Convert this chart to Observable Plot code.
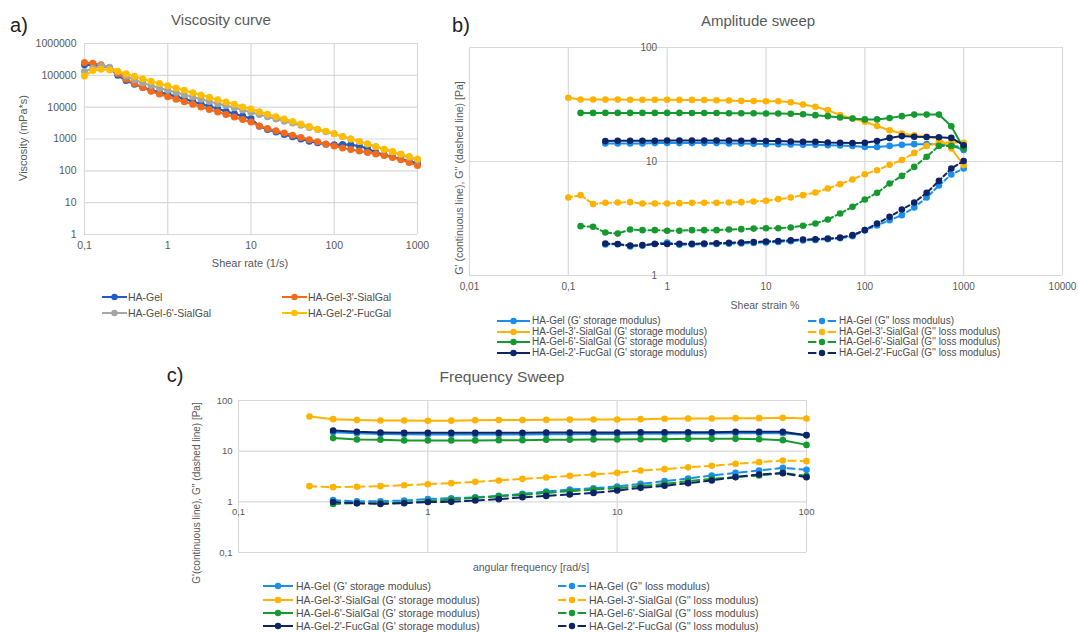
<!DOCTYPE html>
<html>
<head>
<meta charset="utf-8">
<script src="https://cdn.jsdelivr.net/npm/d3@7"></script>
<script src="https://cdn.jsdelivr.net/npm/@observablehq/plot@0.6"></script>
<style>
  html, body { margin: 0; padding: 0; background: #fff; }
  #root { position: relative; width: 1078px; height: 632px; overflow: hidden; background: #fff; }
</style>
</head>
<body>
<div id="root"></div>
<script>
// ---------------- DATA ----------------
// (a) Viscosity curve
const shearRate = [0.1, 0.126, 0.158, 0.2, 0.251, 0.316, 0.398, 0.501, 0.631, 0.794,
  1, 1.26, 1.58, 2, 2.51, 3.16, 3.98, 5.01, 6.31, 7.94,
  10, 12.6, 15.8, 20, 25.1, 31.6, 39.8, 50.1, 63.1, 79.4,
  100, 126, 158, 200, 251, 316, 398, 501, 631, 794, 1000];
const viscHAGel = [214000, 214000, 200000, 174000, 100000, 69000, 52500, 41700, 34700, 29500, 25700,
  21400, 18200, 15100, 12600, 10700, 8900, 7400, 6170, 5250, 4370,
  2510, 2000, 1660, 1380, 1170, 1000, 850, 760, 690, 660,
  676, 660, 600, 500, 380, 316, 275, 234, 200, 174];
const viscSial3 = [251000, 240000, 214000, 166000, 112000, 76000, 55000, 41700, 31600, 25700, 21400,
  17800, 14800, 12300, 10200, 8500, 7080, 5890, 4900, 4070, 3390,
  2570, 2140, 1820, 1550, 1320, 1120, 955, 813, 692, 603,
  525, 468, 417, 380, 339, 302, 263, 224, 182, 148];
const viscSial6 = [132000, 166000, 200000, 178000, 132000, 95500, 72400, 57500, 47900, 39800, 33900,
  28800, 24500, 20900, 17800, 15100, 12900, 11200, 9550, 8130, 6920,
  5890, 5010, 4270, 3630, 3160, 2690, 2290, 2000, 1700, 1450,
  1200, 1000, 832, 692, 575, 468, 389, 324, 269, 219];
const viscFuc2 = [95500, 141000, 155000, 148000, 135000, 112000, 93300, 77600, 64600, 55000, 46800,
  39800, 33900, 28200, 24000, 20400, 17000, 14500, 12300, 10200, 8710,
  7240, 6030, 5010, 4270, 3550, 2950, 2450, 2040, 1740, 1450,
  1200, 1000, 832, 692, 575, 479, 407, 339, 282, 234];
const viscXTicks = [0.1, 1, 10, 100, 1000];
const viscYTicks = [1, 10, 100, 1000, 10000, 100000, 1000000];
const viscNames = ["HA-Gel", "HA-Gel-3'-SialGal", "HA-Gel-6'-SialGal", "HA-Gel-2'-FucGal"];

// (b) Amplitude sweep (all series end at 1000 %)
const strain = [0.1, 0.133, 0.178, 0.237, 0.316, 0.422, 0.562, 0.75,
  1, 1.33, 1.78, 2.37, 3.16, 4.22, 5.62, 7.5,
  10, 13.3, 17.8, 23.7, 31.6, 42.2, 56.2, 75,
  100, 133, 178, 237, 316, 422, 562, 750, 1000];
const ampGpHAGel = [14.4, 14.4, 14.4, 14.4, 14.5, 14.5, 14.5, 14.5, 14.5, 14.5, 14.4, 14.4, 14.3, 14.2,
  14.2, 14.1, 14.0, 14.0, 13.9, 13.8, 13.7, 13.4, 13.4, 13.7, 14.0, 14.2, 14.2, 14.2, 13.9, 12.6];
const ampGpSial3 = [36.2, 35.0, 35.0, 34.9, 34.9, 34.8, 34.8, 34.8, 34.8, 34.7, 34.7, 34.6, 34.5, 34.3, 34.0, 33.9, 33.8,
  33.8, 33.1, 31.6, 30.2, 28.2, 25.5, 23.8, 22.3, 20.5, 18.8, 17.6, 17.0, 16.5, 15.9, 13.0, 9.3];
const ampGpSial6 = [26.7, 26.7, 26.7, 26.7, 26.7, 26.7, 26.7, 26.7, 26.7, 26.6, 26.6, 26.6, 26.5, 26.5, 26.5, 26.4,
  26.4, 26.2, 26.0, 25.5, 25.0, 24.3, 23.8, 23.4, 23.4, 24.1, 25.0, 25.8, 25.8, 25.8, 20.4, 13.0];
const ampGpFuc2 = [15.1, 15.2, 15.2, 15.2, 15.2, 15.3, 15.3, 15.3, 15.3, 15.3, 15.3, 15.2, 15.2, 15.1,
  15.1, 15.0, 14.9, 14.9, 14.7, 14.6, 14.5, 14.6, 15.1, 16.1, 16.7, 16.5, 16.4, 16.3, 16.1, 13.9];
const ampGppHAGel = [1.87, 1.88, 1.80, 1.82, 1.90, 1.95, 1.86, 1.87, 1.88, 1.89, 1.90, 1.91, 1.93, 1.95,
  1.97, 2.00, 2.03, 2.05, 2.08, 2.12, 2.21, 2.50, 2.75, 3.06, 3.38, 3.95, 4.83, 6.15, 7.69, 8.68];
const ampGppSial3 = [4.83, 5.07, 4.23, 4.34, 4.37, 4.40, 4.28, 4.28, 4.28, 4.31, 4.34, 4.34, 4.34, 4.37, 4.40, 4.46, 4.52,
  4.68, 4.83, 5.07, 5.35, 5.80, 6.33, 6.95, 7.74, 8.39, 9.35, 10.3, 11.9, 13.7, 14.6, 14.7, 14.6];
const ampGppSial6 = [2.71, 2.68, 2.38, 2.33, 2.53, 2.50, 2.50, 2.47, 2.47, 2.50, 2.50, 2.50, 2.53, 2.55, 2.58, 2.60,
  2.60, 2.64, 2.73, 2.86, 3.10, 3.50, 4.00, 4.64, 5.31, 6.41, 7.48, 8.97, 11.0, 13.7, 13.7, 13.4];
const ampGppFuc2 = [1.91, 1.89, 1.83, 1.85, 1.89, 1.89, 1.90, 1.90, 1.91, 1.92, 1.94, 1.95, 1.97, 1.99,
  2.01, 2.04, 2.07, 2.08, 2.11, 2.15, 2.26, 2.50, 2.86, 3.27, 3.79, 4.37, 5.31, 6.76, 8.68, 10.1];
const ampXTicks = [0.01, 0.1, 1, 10, 100, 1000, 10000];
const ampYTicks = [1, 10, 100];

// (c) Frequency sweep (all series end at 100 rad/s)
const freq = [0.237, 0.316, 0.422, 0.562, 0.75, 1, 1.33, 1.78, 2.37, 3.16, 4.22,
  5.62, 7.5, 10, 13.3, 17.8, 23.7, 31.6, 42.2, 56.2, 75, 100];
const frqGpHAGel = [23.5, 22.5, 21.8, 21.5, 21.3, 21.3, 21.3, 21.3, 21.3, 21.5, 21.5, 21.8, 21.8,
  22.0, 22.0, 22.2, 22.2, 22.5, 22.5, 22.5, 20.5];
const frqGpSial3 = [48.3, 42.8, 41.0, 40.3, 40.3, 39.7, 40.0, 40.6, 41.0, 41.0, 41.5, 42.0, 42.2, 42.2,
  42.8, 43.5, 44.2, 44.2, 44.8, 44.8, 45.5, 44.2];
const frqGpSial6 = [18.1, 17.0, 16.8, 16.3, 16.3, 16.3, 16.3, 16.5, 16.5, 16.8, 16.8, 17.0, 17.0,
  17.2, 17.2, 17.5, 17.5, 17.5, 17.2, 16.5, 13.3];
const frqGpFuc2 = [25.6, 24.1, 23.4, 23.0, 23.0, 23.0, 23.0, 23.0, 23.0, 23.4, 23.4, 23.4, 23.4,
  23.7, 23.7, 23.7, 23.7, 24.1, 24.1, 24.1, 20.7];
const frqGppHAGel = [1.08, 1.02, 1.03, 1.06, 1.13, 1.18, 1.23, 1.31, 1.44, 1.60, 1.75, 1.86, 2.01,
  2.26, 2.56, 2.89, 3.31, 3.73, 4.15, 4.69, 4.28];
const frqGppSial3 = [2.04, 1.95, 1.98, 2.04, 2.13, 2.23, 2.34, 2.48, 2.64, 2.84, 3.02, 3.26, 3.46, 3.73,
  4.15, 4.42, 4.83, 5.14, 5.62, 6.07, 6.55, 6.35];
const frqGppSial6 = [0.91, 0.94, 0.94, 0.96, 1.03, 1.11, 1.20, 1.29, 1.37, 1.50, 1.62, 1.75, 1.86,
  2.04, 2.26, 2.56, 2.84, 3.08, 3.31, 3.73, 3.25];
const frqGppFuc2 = [0.99, 0.94, 0.91, 0.94, 0.99, 1.00, 1.06, 1.13, 1.23, 1.31, 1.40, 1.50, 1.67,
  1.89, 2.07, 2.34, 2.64, 3.08, 3.46, 3.68, 3.05];
const frqXTicks = [0.1, 1, 10, 100];
const frqYTicks = [0.1, 1, 10, 100];

const modNames = ["HA-Gel", "HA-Gel-3'-SialGal", "HA-Gel-6'-SialGal", "HA-Gel-2'-FucGal"];

// ---------------- STYLE ----------------
const FONT = '"Liberation Sans", Arial, Helvetica, sans-serif';
const GRID = "#d9d9d9";
const TXT = "#595959";
const colA = ["#1f5cc6", "#f26a1c", "#a5a5a5", "#ffbf00"];
const colM = ["#1a8ee8", "#ffb300", "#16992f", "#0d2466"];

const root = document.getElementById("root");
const fmt = d => String(d).replace(".", ",");

// rows aligned to the end of the x array
function rows(xs, ys) {
  const off = xs.length - ys.length;
  return ys.map((y, i) => ({x: xs[i + off], y}));
}

function place(svg, left, top) {
  svg.style.position = "absolute";
  svg.style.left = left + "px";
  svg.style.top = top + "px";
  root.appendChild(svg);
}

function txt(s, x, y, {size = 11, color = TXT, anchor = "middle", rotate = 0} = {}) {
  const d = document.createElement("div");
  d.textContent = s;
  d.style.cssText = `position:absolute;left:${x}px;top:${y}px;font-size:${size}px;color:${color};white-space:nowrap;line-height:1;font-family:${FONT};`;
  const tx = anchor === "middle" ? "-50%" : anchor === "end" ? "-100%" : "0";
  d.style.transform = `translate(${tx},-50%)` + (rotate ? ` rotate(${rotate}deg)` : "");
  root.appendChild(d);
}

function legendItem(x, y, w, color, dashed, label, size, gap) {
  const svg = d3.create("svg").attr("width", w).attr("height", 10)
    .style("position", "absolute").style("left", x + "px").style("top", (y - 5) + "px");
  if (dashed) {
    svg.append("line").attr("x1", 0).attr("x2", w * 0.3).attr("y1", 5).attr("y2", 5)
      .attr("stroke", color).attr("stroke-width", 2);
    svg.append("line").attr("x1", w * 0.7).attr("x2", w).attr("y1", 5).attr("y2", 5)
      .attr("stroke", color).attr("stroke-width", 2);
  } else {
    svg.append("line").attr("x1", 0).attr("x2", w).attr("y1", 5).attr("y2", 5)
      .attr("stroke", color).attr("stroke-width", 2);
  }
  svg.append("circle").attr("cx", w / 2).attr("cy", 5).attr("r", 3.2).attr("fill", color);
  root.appendChild(svg.node());
  txt(label, x + w + gap, y, {size, anchor: "start", color: "#4d4d4d"});
}

function seriesMarks(data, color, {dashed = false, width = 2, r = 3, dash = "4,3"} = {}) {
  return [
    Plot.line(data, {x: "x", y: "y", stroke: color, strokeWidth: width, strokeDasharray: dashed ? dash : null}),
    Plot.dot(data, {x: "x", y: "y", r, fill: color, stroke: "none"})
  ];
}

// ---------------- (a) ----------------
const viscSeries = [viscHAGel, viscSial3, viscSial6, viscFuc2];
const plotA = Plot.plot({
  width: 440, height: 280,
  marginLeft: 84, marginRight: 23, marginTop: 43, marginBottom: 46,
  style: {fontFamily: FONT, fontSize: "10.5px", color: TXT, background: "transparent", overflow: "visible"},
  x: {type: "log", domain: [0.1, 1000]},
  y: {type: "log", domain: [1, 1e6]},
  marks: [
    Plot.gridX(viscXTicks, {stroke: GRID, strokeOpacity: 1, strokeWidth: 1.2}),
    Plot.gridY(viscYTicks, {stroke: GRID, strokeOpacity: 1, strokeWidth: 1.2}),
    Plot.axisX(viscXTicks, {tickSize: 0, tickPadding: 7, tickFormat: fmt, label: null}),
    Plot.axisY(viscYTicks, {tickSize: 0, tickPadding: 8, tickFormat: d => String(d), label: null}),
    ...viscSeries.flatMap((s, i) => seriesMarks(rows(shearRate, s), colA[i], {width: 2.2, r: 3.5}))
  ]
});
place(plotA, 0, 0);
txt("a)", 19, 25, {size: 20, color: "#222"});
txt("Viscosity curve", 221, 19, {size: 15});
txt("Viscosity (mPa*s)", 23, 138, {size: 11, rotate: -90});
txt("Shear rate (1/s)", 250, 263, {size: 11});
legendItem(102, 297, 25, colA[0], false, viscNames[0], 10.5, 1);
legendItem(282, 297, 25, colA[1], false, viscNames[1], 10.5, 1);
legendItem(102, 313, 25, colA[2], false, viscNames[2], 10.5, 1);
legendItem(282, 313, 25, colA[3], false, viscNames[3], 10.5, 1);

// ---------------- (b) ----------------
const ampGp = [ampGpHAGel, ampGpSial3, ampGpSial6, ampGpFuc2];
const ampGpp = [ampGppHAGel, ampGppSial3, ampGppSial6, ampGppFuc2];
const plotB = Plot.plot({
  width: 638, height: 300,
  marginLeft: 29, marginRight: 16, marginTop: 47, marginBottom: 25,
  style: {fontFamily: FONT, fontSize: "10px", color: TXT, background: "transparent", overflow: "visible"},
  x: {type: "log", domain: [0.01, 10000]},
  y: {type: "log", domain: [1, 100], axis: null},
  marks: [
    Plot.gridX(ampXTicks, {stroke: GRID, strokeOpacity: 1, strokeWidth: 1.2}),
    Plot.gridY(ampYTicks, {stroke: GRID, strokeOpacity: 1, strokeWidth: 1.2}),
    Plot.axisX(ampXTicks, {tickSize: 0, tickPadding: 7, tickFormat: fmt, label: null}),
    Plot.text(ampYTicks, {x: () => 1, y: d => d, text: d => String(d), textAnchor: "end", dx: -10, fill: TXT}),
    ...[0, 1, 2, 3].flatMap(i => [
      ...seriesMarks(rows(strain, ampGp[i]), colM[i], {width: 2, r: 3.3}),
      ...seriesMarks(rows(strain, ampGpp[i]), colM[i], {width: 2, r: 3.3, dashed: true, dash: "4,3"})
    ])
  ]
});
place(plotB, 440, 0);
txt("b)", 461, 25, {size: 20, color: "#222"});
txt("Amplitude sweep", 758, 20, {size: 15});
txt("G' (continuous line), G'' (dashed line) [Pa]", 459, 178, {size: 10.5, rotate: -90});
txt("Shear strain %", 765, 305, {size: 10.5});
const lbY = [321, 331.5, 342, 352.5];
for (let i = 0; i < 4; i++) {
  legendItem(497, lbY[i], 33, colM[i], false, modNames[i] + " (G' storage modulus)", 10, 2);
  legendItem(808, lbY[i], 28, colM[i], true, modNames[i] + " (G'' loss modulus)", 10, 3);
}

// ---------------- (c) ----------------
const frqGp = [frqGpHAGel, frqGpSial3, frqGpSial6, frqGpFuc2];
const frqGpp = [frqGppHAGel, frqGppSial3, frqGppSial6, frqGppFuc2];
const plotC = Plot.plot({
  width: 680, height: 190,
  marginLeft: 78, marginRight: 34, marginTop: 20, marginBottom: 18,
  style: {fontFamily: FONT, fontSize: "9.5px", color: TXT, background: "transparent", overflow: "visible"},
  x: {type: "log", domain: [0.1, 100], axis: null},
  y: {type: "log", domain: [0.1, 100]},
  marks: [
    Plot.gridX(frqXTicks, {stroke: GRID, strokeOpacity: 1, strokeWidth: 1.2}),
    Plot.gridY(frqYTicks, {stroke: GRID, strokeOpacity: 1, strokeWidth: 1.2}),
    Plot.axisY(frqYTicks, {tickSize: 0, tickPadding: 6, tickFormat: fmt, label: null}),
    Plot.text(frqXTicks, {x: d => d, y: () => 1, text: fmt, dy: 10, fill: TXT}),
    ...[0, 1, 2, 3].flatMap(i => [
      ...seriesMarks(rows(freq, frqGp[i]), colM[i], {width: 2, r: 3.3}),
      ...seriesMarks(rows(freq, frqGpp[i]), colM[i], {width: 2, r: 3.3, dashed: true, dash: "7,5"})
    ])
  ]
});
place(plotC, 160, 380);
txt("c)", 175, 375, {size: 20, color: "#222"});
txt("Frequency Sweep", 502, 377, {size: 15.5});
txt("G'(continuous line), G'' (dashed line) [Pa]", 197, 493, {size: 10, rotate: -90});
txt("angular frequency [rad/s]", 531, 567, {size: 10.5});
const lcY = [586, 599.5, 613, 626];
for (let i = 0; i < 4; i++) {
  legendItem(263, lcY[i], 30, colM[i], false, modNames[i] + " (G' storage modulus)", 10.5, 3);
  legendItem(558, lcY[i], 28, colM[i], true, modNames[i] + " (G'' loss modulus)", 10.5, 3);
}
</script>
</body>
</html>
